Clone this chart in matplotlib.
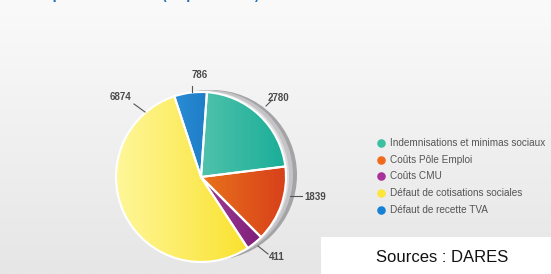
import numpy as np
import matplotlib.pyplot as plt
from matplotlib.colors import LinearSegmentedColormap
from matplotlib.patches import Circle, Rectangle

# data
labels = ["Indemnisations et minimas sociaux", "Coûts Pôle Emploi", "Coûts CMU",
          "Défaut de cotisations sociales", "Défaut de recette TVA"]
values = [2780, 1839, 411, 6874, 786]
value_labels = ["2780", "1839", "411", "6874", "786"]
colors = ["#3cc0a2", "#ef6a1c", "#a8329a", "#fde63a", "#1781d4"]
grad_light = ["#86d6c0", "#f8a61e", "#d070c0", "#fff79a", "#40a8ec"]
grad_dark = ["#1aae98", "#d8401a", "#70106e", "#f8dc10", "#0058a8"]
title = "d'un poste d'insertion (k€ pour 1 ETP)"
source = "Sources : DARES"

W, H = 551, 274
fig = plt.figure(figsize=(W / 100, H / 100), dpi=100)
ax = fig.add_axes([0, 0, 1, 1])

# background gradient
bg = np.linspace(0, 1, 100).reshape(-1, 1)
bg_cmap = LinearSegmentedColormap.from_list("bg", ["#e6e6e7", "#fafafa"])
ax.imshow(bg, cmap=bg_cmap, extent=[0, W, 0, H], origin="lower", aspect="auto", zorder=0)

cx, cy, r = 201, 97, 85

# shadow crescent on the right
ax.add_patch(Circle((cx + 11, cy + 2), r, color="#a4a4a6", zorder=1, lw=0))
ax.add_patch(Circle((cx + 7, cy + 2), r, color="#c4c4c6", zorder=1, lw=0))
ax.add_patch(Circle((cx + 3, cy + 1), r, color="#dddddf", zorder=1, lw=0))

wedges, _ = ax.pie(values, startangle=86, counterclock=False, center=(cx, cy), radius=r,
                   colors=colors, wedgeprops=dict(edgecolor="white", linewidth=1.5),
                   frame=True)
ax.set_xlim(0, W)
ax.set_ylim(0, H)
ax.set_aspect("auto")
ax.axis("off")

# gradient fill clipped to each wedge
gx = np.linspace(0, 1, 200).reshape(1, -1)
for w, c1, c2 in zip(wedges, grad_light, grad_dark):
    cm = LinearSegmentedColormap.from_list("g", [c1, c2])
    im = ax.imshow(gx, cmap=cm, extent=[cx - r, cx + r, cy - r, cy + r],
                   aspect="auto", zorder=2.5)
    im.set_clip_path(w)
    w.set_facecolor("none")
    w.set_zorder(3)

# value labels with leader lines
lab_pos = [(278, 176), (315, 77), (277, 17), (120, 177), (200, 199)]
line_seg = [((266, 168), (272, 174)), ((290, 78), (302, 78)), ((258, 28), (268, 20)),
            ((134, 170), (145, 162)), ((192, 188), (192, 182))]
for (tx, ty), seg, t in zip(lab_pos, line_seg, value_labels):
    ax.plot([seg[0][0], seg[1][0]], [seg[0][1], seg[1][1]], color="#555555", lw=0.8, zorder=4)
    ax.text(tx, ty, t, ha="center", va="center", fontsize=7, fontweight="bold",
            color="#4a4a4a", family=["Liberation Sans Narrow", "Liberation Sans"], zorder=5)

# legend
ly0 = H - 143
for i, (lab, c) in enumerate(zip(labels, colors)):
    y = ly0 - i * 16.7
    ax.scatter([381], [y], s=38, color=c, zorder=5, lw=0)
    ax.text(390, y, lab, ha="left", va="center", fontsize=7.2, color="#555555",
            family=["Liberation Sans Narrow", "Liberation Sans"], zorder=5)

# title (cut off at top edge, as in the original)
ax.text(22, H + 3, title, ha="left", va="center", fontsize=8, fontweight="bold",
        color="#1f6fb8", zorder=5, clip_on=True)

# source box
ax.add_patch(Rectangle((321, 0), W - 321, 37, color="white", zorder=6, lw=0))
ax.text(442, 16, source, ha="center", va="center", fontsize=12, color="#111111",
        family="Liberation Sans", zorder=7)

fig.savefig("out.png", dpi=100)
